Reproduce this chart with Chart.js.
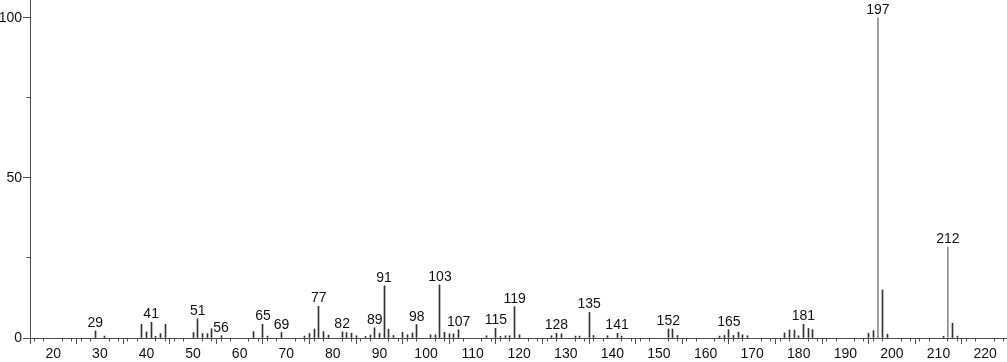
<!DOCTYPE html>
<html>
<head>
<meta charset="utf-8">
<script src="https://cdn.jsdelivr.net/npm/chart.js@4.4.1/dist/chart.umd.min.js"></script>
<style>
html,body{margin:0;padding:0;background:#fff;}
#wrap{width:1007px;height:362px;}
</style>
</head>
<body>
<div id="wrap"><canvas id="c" width="1007" height="362"></canvas></div>
<script>
// m/z values of the peaks
const masses = [29,31,39,40,41,42,43,44,50,51,52,53,54,56,63,65,66,69,74,75,76,77,78,79,82,83,84,85,87,88,89,90,91,92,93,95,96,97,98,101,102,103,104,105,106,107,113,115,116,117,118,119,120,127,128,129,132,133,135,136,139,141,142,152,153,154,163,164,165,166,167,168,169,177,178,179,180,181,182,183,195,196,197,198,199,211,212,213,214];
// relative intensities (%)
const intensities = [2.2,0.6,4.3,1.9,4.9,0.5,1.4,4.3,1.7,6.0,1.4,1.4,2.9,0.7,2.0,4.3,0.6,1.7,0.6,1.4,2.8,9.9,2.0,0.9,1.9,1.7,1.5,0.7,0.5,0.9,3.2,1.5,16.3,2.7,0.8,1.8,1.0,1.6,4.2,1.0,1.0,16.6,1.8,1.3,1.3,2.6,0.7,3.0,0.5,0.7,0.7,9.8,1.0,0.7,1.5,1.3,0.6,0.6,8.0,0.8,0.7,1.5,0.6,2.8,2.8,0.8,0.6,0.8,2.6,0.8,1.8,1.0,0.7,1.6,2.5,2.5,0.7,4.3,3.0,2.6,1.5,2.3,100,15,1.2,0.5,28.4,4.6,0.6];
// peaks that carry a text label
const labeledMasses = [29,41,51,56,65,69,77,82,89,91,98,103,107,115,119,128,135,141,152,165,181,197,212];
// highlighted (grey) peaks
const greyMasses = [197,212];
// axis ticks
const xMajorTicks = [20,30,40,50,60,70,80,90,100,110,120,130,140,150,160,170,180,190,200,210,220];
const yMajorTicks = [0,50,100];
const yMinorTicks = [25,75];

const FONT = {family:'"Liberation Sans", Arial, sans-serif', size:14};
const AXIS_COLOR = '#4d4d4d';

const points = masses.map((m,i)=>({x:m,y:intensities[i]}));

const extras = {
  id:'extras',
  beforeDatasetsDraw(chart){
    // pixel-snap the thin sticks so they render crisp
    const meta = chart.getDatasetMeta(0);
    meta.data.forEach((el,i)=>{
      if(!greyMasses.includes(masses[i])) el.x = Math.floor(el.x) + 0.5;
    });
  },
  afterDatasetsDraw(chart){
    const ctx = chart.ctx, xs = chart.scales.x, ys = chart.scales.y;
    const area = chart.chartArea;
    ctx.save();
    // minor ticks
    ctx.strokeStyle = AXIS_COLOR; ctx.lineWidth = 1;
    ctx.beginPath();
    for(let v=16; v<=224; v+=2){
      if(v%10===0) continue;
      const px = Math.floor(xs.getPixelForValue(v))+0.5;
      ctx.moveTo(px, area.bottom); ctx.lineTo(px, area.bottom+3.5);
    }
    yMinorTicks.forEach(v=>{
      const py = Math.floor(ys.getPixelForValue(v))+0.5;
      ctx.moveTo(area.left, py); ctx.lineTo(area.left-3.5, py);
    });
    ctx.stroke();
    // peak labels
    ctx.fillStyle = '#111';
    ctx.font = FONT.size+'px '+FONT.family;
    ctx.textAlign = 'center'; ctx.textBaseline = 'alphabetic';
    labeledMasses.forEach(m=>{
      const i = masses.indexOf(m);
      const px = xs.getPixelForValue(m);
      const py = ys.getPixelForValue(intensities[i]);
      ctx.fillText(String(m), px, py-4);
    });
    ctx.restore();
  }
};

new Chart(document.getElementById('c'), {
  type:'bar',
  data:{datasets:[{
    data:points,
    barThickness:1,
    backgroundColor:(c)=> (c.raw && greyMasses.includes(c.raw.x)) ? '#8c8c8c' : '#333',
    borderWidth:0
  }]},
  options:{
    responsive:false,
    animation:false,
    layout:{padding:0},
    plugins:{legend:{display:false},tooltip:{enabled:false}},
    scales:{
      x:{
        type:'linear', min:15, max:224.7, offset:false,
        afterBuildTicks:(s)=>{ s.ticks = xMajorTicks.map(v=>({value:v})); },
        afterFit:(s)=>{ s.height = 24; s.paddingLeft=0; s.paddingRight=0; },
        grid:{drawOnChartArea:false, drawTicks:true, tickLength:6, color:AXIS_COLOR},
        border:{color:AXIS_COLOR, width:1},
        ticks:{font:FONT, color:'#111', padding:2, maxRotation:0, autoSkip:false}
      },
      y:{
        min:0, max:105.6,
        afterBuildTicks:(s)=>{ s.ticks = yMajorTicks.map(v=>({value:v})); },
        afterFit:(s)=>{ s.width = 30; s.paddingTop=0; s.paddingBottom=0; },
        grid:{drawOnChartArea:false, drawTicks:true, tickLength:7, color:AXIS_COLOR},
        border:{color:AXIS_COLOR, width:1},
        ticks:{font:FONT, color:'#111', padding:1}
      }
    }
  },
  plugins:[extras]
});
</script>
</body>
</html>
